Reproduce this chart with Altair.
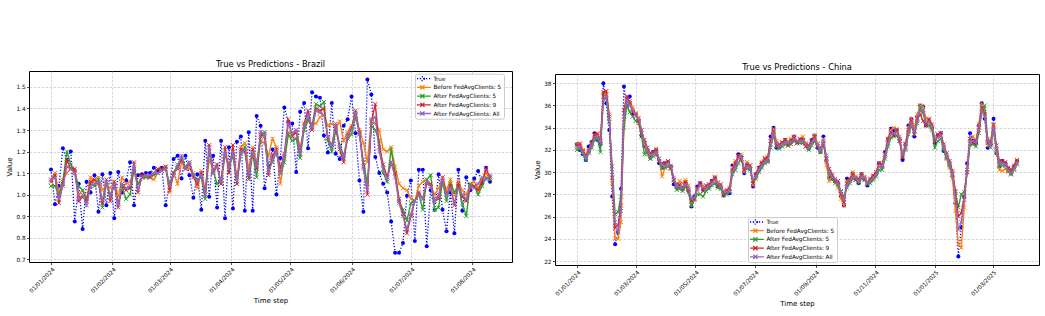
import altair as alt
import pandas as pd

SERIES = [
    "True",
    "Before FedAvgClients: 5",
    "After FedAvgClients: 5",
    "After FedAvgClients: 9",
    "After FedAvgClients: All",
]
COLORS = ["#0000ff", "#ff7f0e", "#2ca02c", "#d62728", "#9467bd"]

# ---- Brazil: one value every 2 days from 01/01/2024 ----
BR_TRUE = [
    1.117, 0.955, 1.04, 1.215, 1.16, 1.2, 0.875, 1.05, 0.84, 1.06,
    1.01, 1.09, 0.92, 1.095, 0.95, 1.10, 0.89, 1.105, 1.01, 1.065,
    1.15, 0.95, 1.09, 1.095, 1.10, 1.10, 1.125, 1.11, 1.125, 0.95,
    1.05, 1.165, 1.18, 1.075, 1.18, 1.09, 0.985, 1.095, 0.93, 1.25,
    0.99, 1.18, 0.94, 1.25, 0.89, 1.22, 0.935, 1.245, 1.27, 0.925,
    1.29, 0.925, 1.365, 1.32, 1.03, 1.135, 1.21, 1.0, 1.17, 1.405,
    1.335, 1.33, 1.105, 1.385, 1.425, 1.215, 1.475, 1.455, 1.45, 1.275,
    1.195, 1.425, 1.19, 1.165, 1.32, 1.35, 1.455, 1.285, 1.065, 0.92,
    1.535, 1.465, 1.175, 1.10, 1.05, 1.01, 0.875, 0.73, 0.73, 0.775,
    0.995, 1.065, 0.785, 1.115, 1.115, 0.76, 1.02, 0.93, 1.095, 0.93,
    0.83, 1.01, 0.82, 1.115, 0.925, 1.08, 1.02, 1.075, 1.11, 1.05,
    1.125, 1.06,
]
BR_BEFORE5 = [
    1.07, 1.10, 1.01, 1.07, 1.10, 1.12, 1.11, 1.00, 1.02, 0.98,
    1.08, 1.06, 1.08, 1.02, 1.04, 1.03, 1.06, 0.99, 1.08, 1.05,
    1.06, 1.10, 1.05, 1.08, 1.08, 1.08, 1.07, 1.10, 1.11, 1.13,
    1.01, 1.10, 1.05, 1.15, 1.12, 1.12, 1.10, 1.03, 1.11, 1.02,
    1.16, 1.12, 1.13, 1.05, 1.18, 1.14, 1.20, 1.08, 1.22, 1.24,
    1.12, 1.22, 1.15, 1.25, 1.24, 1.18, 1.26, 1.22, 1.05, 1.17,
    1.29, 1.28, 1.30, 1.22, 1.30, 1.34, 1.33, 1.33, 1.36, 1.37,
    1.32, 1.33, 1.31, 1.34, 1.25, 1.29, 1.32, 1.35, 1.30, 1.24,
    1.15, 1.35, 1.33, 1.30, 1.21, 1.20, 1.22, 1.13, 1.05, 1.03,
    1.02, 0.98, 0.97, 1.04, 1.06, 1.07, 1.04, 1.00, 1.03, 1.08,
    1.02, 1.07, 1.00, 1.06, 1.02, 1.00, 1.05, 1.06, 1.03, 1.07,
    1.10, 1.08,
]
BR_AFTER5 = [
    1.04, 1.04, 1.00, 1.06, 1.20, 1.14, 1.10, 1.04, 1.02, 0.98,
    1.05, 1.04, 1.07, 0.94, 1.05, 1.00, 1.04, 0.96, 1.03, 0.98,
    1.00, 1.12, 1.05, 1.08, 1.08, 1.08, 1.09, 1.10, 1.11, 1.12,
    1.05, 1.10, 1.14, 1.16, 1.13, 1.15, 1.09, 1.07, 1.08, 0.98,
    1.20, 1.11, 1.05, 1.07, 1.19, 1.13, 1.18, 1.05, 1.19, 1.22,
    1.07, 1.19, 1.08, 1.27, 1.29, 1.13, 1.15, 1.20, 1.10, 1.15,
    1.28, 1.25, 1.26, 1.17, 1.30, 1.35, 1.32, 1.42, 1.41, 1.43,
    1.25, 1.20, 1.30, 1.23, 1.18, 1.26, 1.28, 1.37, 1.28, 1.15,
    1.05, 1.32, 1.30, 1.25, 1.10, 1.06, 1.21, 1.10, 0.97, 0.93,
    0.88, 0.96, 0.97, 1.00, 0.93, 1.07, 1.09, 0.93, 0.94, 1.06,
    0.97, 1.05, 1.01, 1.04, 0.96, 0.90, 1.05, 1.04, 1.00, 1.04,
    1.08, 1.07,
]
BR_AFTER9 = [
    1.06, 1.09, 0.96, 1.05, 1.16, 1.12, 1.12, 0.97, 0.99, 0.97,
    1.06, 1.07, 1.05, 0.96, 1.07, 0.97, 1.06, 0.94, 1.04, 1.02,
    1.03, 1.15, 1.01, 1.09, 1.09, 1.08, 1.10, 1.12, 1.12, 1.13,
    1.02, 1.10, 1.12, 1.17, 1.12, 1.14, 1.08, 1.05, 1.10, 1.00,
    1.23, 1.10, 1.14, 1.05, 1.22, 1.10, 1.23, 1.05, 1.21, 1.20,
    1.08, 1.21, 1.12, 1.28, 1.27, 1.09, 1.18, 1.21, 1.12, 1.19,
    1.35, 1.27, 1.29, 1.19, 1.33, 1.39, 1.30, 1.40, 1.39, 1.40,
    1.26, 1.23, 1.32, 1.21, 1.15, 1.27, 1.31, 1.39, 1.29, 1.13,
    1.00, 1.34, 1.42, 1.22, 1.14, 1.08, 1.15, 1.10, 0.98, 0.91,
    0.82, 0.90, 0.97, 1.01, 0.98, 1.05, 1.05, 0.97, 0.98, 1.08,
    1.00, 1.04, 0.95, 1.05, 0.99, 0.97, 1.03, 1.04, 1.02, 1.06,
    1.12, 1.08,
]
BR_AFTERALL = [
    1.07, 1.08, 0.98, 1.04, 1.13, 1.12, 1.10, 0.98, 1.00, 0.95,
    1.04, 1.05, 1.06, 0.97, 1.06, 0.99, 1.05, 0.95, 1.05, 1.03,
    1.04, 1.14, 1.02, 1.08, 1.09, 1.09, 1.10, 1.10, 1.11, 1.12,
    1.04, 1.09, 1.13, 1.18, 1.12, 1.15, 1.09, 1.06, 1.09, 1.00,
    1.22, 1.10, 1.13, 1.06, 1.20, 1.12, 1.20, 1.06, 1.20, 1.21,
    1.09, 1.20, 1.13, 1.29, 1.28, 1.10, 1.16, 1.20, 1.10, 1.18,
    1.33, 1.28, 1.30, 1.19, 1.32, 1.37, 1.31, 1.39, 1.38, 1.37,
    1.27, 1.22, 1.33, 1.22, 1.17, 1.28, 1.30, 1.38, 1.28, 1.12,
    1.02, 1.35, 1.36, 1.20, 1.12, 1.07, 1.15, 1.08, 0.96, 0.90,
    0.84, 0.91, 0.97, 1.00, 0.98, 1.06, 1.04, 0.97, 1.00, 1.07,
    1.00, 1.03, 0.96, 1.03, 1.00, 0.98, 1.04, 1.03, 1.05, 1.08,
    1.07, 1.09,
]

# ---- China: one value every 3 days from 01/01/2024 ----
CN_TRUE = [
    32.5, 32.0, 31.6, 31.1, 32.3, 32.7, 33.5, 32.9, 32.5, 38.0,
    36.2, 33.8, 27.8, 23.5, 24.6, 28.5, 37.7, 35.9, 36.8, 35.2,
    35.2, 34.7, 33.3, 32.3, 31.8, 31.3, 31.8, 32.0, 30.8, 30.4,
    30.8, 30.9, 30.5, 28.9, 28.6, 28.7, 28.6, 29.0, 28.3, 26.9,
    27.8, 28.7, 29.0, 28.4, 28.6, 28.7, 29.2, 29.5, 28.7, 28.6,
    27.9, 28.2, 28.1, 30.6, 30.6, 31.6, 31.4, 29.9, 30.7, 30.3,
    28.7, 29.8, 30.4, 30.8, 31.1, 31.0, 33.2, 34.0, 32.2, 32.3,
    32.6, 32.9, 32.6, 32.8, 33.2, 32.7, 32.9, 32.9, 32.5, 32.1,
    32.9, 33.3, 32.2, 31.8, 33.2, 31.0, 29.5, 29.4, 29.3, 28.9,
    27.8, 27.0, 29.4, 29.3, 29.9, 29.5, 29.0, 29.8, 29.5, 28.8,
    29.3, 29.6, 29.9, 30.8, 30.5, 31.8, 33.0, 33.9, 33.7, 33.8,
    32.9, 31.1, 32.5, 34.2, 34.8, 33.2, 35.0, 36.0, 35.9, 34.2,
    34.6, 34.0, 32.6, 33.3, 33.5, 31.9, 31.3, 30.6, 29.6, 27.2,
    22.4, 25.0, 27.8, 30.8, 33.5, 32.8, 32.6, 34.2, 36.2, 34.8,
    32.2, 32.5, 34.8, 31.7, 30.5, 31.0, 30.8, 30.3, 29.9, 30.5,
    31.0,
]
CN_BEFORE5 = [
    32.5, 32.6, 32.0, 31.5, 32.0, 32.6, 33.3, 33.5, 32.8, 37.0,
    37.0, 35.2, 29.0, 24.0, 24.0, 25.5, 34.5, 36.6, 36.4, 35.8,
    35.3, 34.9, 33.8, 32.5, 31.6, 31.2, 31.6, 32.1, 31.2, 29.6,
    30.4, 30.9, 30.4, 29.3, 28.7, 29.2, 29.0, 29.3, 28.8, 27.0,
    27.5, 28.5, 28.8, 28.8, 28.5, 28.9, 29.2, 29.6, 29.1, 28.6,
    28.3, 28.3, 28.6, 30.4, 31.0, 31.3, 31.6, 30.0, 30.9, 30.6,
    28.8, 29.7, 30.3, 30.9, 31.3, 31.2, 32.8, 33.9, 32.8, 32.4,
    32.6, 32.9, 32.8, 33.0, 33.2, 32.8, 33.0, 33.2, 32.6, 32.2,
    32.8, 33.3, 32.6, 31.8, 33.0, 30.6, 29.2, 29.6, 29.2, 28.6,
    27.6, 27.0, 29.2, 29.4, 30.0, 29.6, 29.2, 29.8, 29.6, 29.0,
    29.3, 29.6, 30.0, 30.8, 30.6, 31.6, 33.0, 33.8, 34.0, 33.9,
    33.2, 31.5, 32.6, 34.0, 34.8, 34.0, 35.2, 36.0, 35.9, 34.8,
    34.7, 34.0, 32.8, 33.4, 33.5, 32.2, 31.2, 30.4, 29.4, 26.5,
    23.5, 23.2, 26.8, 30.5, 33.0, 33.2, 32.8, 34.3, 36.1, 35.4,
    32.4, 32.8, 34.3, 31.8, 30.2, 30.1, 30.3, 30.0, 29.8, 30.4,
    31.0,
]
CN_AFTER5 = [
    32.0, 32.1, 31.6, 31.1, 31.7, 32.2, 32.9, 33.0, 31.8, 36.8,
    36.6, 34.5, 30.5, 26.2, 26.4, 27.8, 34.0, 36.0, 35.4, 35.0,
    34.6, 34.4, 33.2, 31.6, 31.8, 31.2, 31.4, 31.6, 31.0, 30.4,
    30.4, 30.5, 30.3, 29.3, 28.4, 28.5, 28.3, 28.7, 28.2, 27.0,
    27.5, 28.0, 28.0, 27.8, 28.3, 28.5, 28.8, 29.0, 28.6, 28.5,
    27.9, 28.0, 28.2, 29.8, 30.2, 30.8, 31.2, 30.2, 30.3, 30.2,
    29.2, 29.4, 30.0, 30.4, 30.8, 30.9, 32.2, 33.3, 32.3, 32.1,
    32.3, 32.5, 32.4, 32.5, 32.8, 32.6, 32.6, 32.6, 32.3, 32.0,
    32.4, 32.8, 32.3, 31.8, 32.5, 31.3, 29.8, 29.4, 29.0, 28.8,
    28.3, 27.8, 28.6, 29.0, 29.4, 29.3, 29.0, 29.4, 29.3, 28.9,
    29.0, 29.3, 29.6, 30.2, 30.2, 31.2, 32.3, 33.1, 33.2, 33.3,
    32.8, 31.4, 32.0, 33.4, 34.2, 33.4, 34.4, 35.8, 35.3, 34.2,
    34.2, 33.8, 32.2, 32.8, 33.0, 32.0, 31.3, 30.6, 29.8, 28.2,
    26.8, 28.0, 28.2, 30.0, 32.5, 32.5, 32.3, 33.5, 35.4, 36.0,
    33.0, 32.2, 33.8, 32.0, 30.6, 30.6, 30.6, 30.1, 29.8, 30.2,
    30.7,
]
CN_AFTER9 = [
    32.4, 32.5, 31.9, 31.5, 31.9, 32.6, 33.4, 33.4, 32.8, 37.2,
    37.3, 35.0, 29.5, 25.0, 25.2, 27.0, 35.6, 36.8, 36.2, 35.4,
    35.2, 34.6, 33.5, 32.9, 32.2, 31.7, 31.8, 32.0, 31.0, 30.8,
    30.8, 31.0, 30.4, 29.3, 28.9, 28.9, 28.5, 29.1, 28.4, 27.4,
    27.6, 28.6, 29.0, 28.3, 28.8, 28.9, 29.2, 29.5, 28.8, 28.9,
    28.0, 28.4, 28.5, 30.2, 30.8, 31.5, 31.2, 30.2, 30.7, 30.6,
    29.0, 29.8, 30.4, 30.8, 31.2, 31.3, 32.8, 33.7, 32.4, 32.5,
    32.7, 32.9, 32.4, 32.9, 33.1, 32.6, 33.0, 32.9, 32.3, 32.4,
    32.8, 33.2, 32.3, 32.2, 32.6, 31.2, 30.3, 29.8, 29.2, 29.2,
    28.0, 27.3, 29.0, 29.4, 29.8, 29.3, 29.4, 29.8, 29.3, 29.1,
    29.4, 29.7, 30.0, 30.8, 30.7, 31.6, 32.9, 33.6, 33.3, 33.8,
    32.8, 31.3, 32.5, 33.8, 34.6, 33.4, 34.8, 35.2, 34.6, 34.2,
    34.8, 34.3, 32.8, 33.4, 33.5, 32.5, 31.7, 31.0, 30.1, 28.3,
    26.0, 26.3, 27.8, 30.0, 33.0, 32.6, 32.8, 34.0, 35.8, 35.2,
    32.6, 32.6, 34.2, 32.4, 31.0, 31.0, 30.9, 30.4, 30.2, 30.6,
    31.1,
]
CN_AFTERALL = [
    32.2, 32.3, 31.8, 31.3, 31.8, 32.4, 33.1, 33.2, 32.6, 36.5,
    36.8, 34.8, 30.0, 25.5, 24.6, 26.5, 35.0, 36.5, 36.0, 35.6,
    35.0, 34.8, 33.8, 32.6, 32.0, 31.5, 31.6, 31.8, 31.2, 30.6,
    30.6, 30.8, 30.6, 29.5, 28.8, 28.7, 28.6, 28.9, 28.6, 27.6,
    27.7, 28.4, 28.8, 28.6, 28.6, 28.7, 29.0, 29.3, 29.0, 28.7,
    28.2, 28.2, 28.3, 30.0, 30.5, 31.2, 31.4, 30.4, 30.5, 30.4,
    29.3, 29.6, 30.2, 30.6, 31.0, 31.0, 32.5, 33.5, 32.6, 32.3,
    32.5, 32.7, 32.6, 32.7, 33.0, 32.8, 32.8, 32.8, 32.5, 32.2,
    32.6, 33.0, 32.5, 32.0, 32.8, 31.5, 30.0, 29.6, 29.4, 29.0,
    28.2, 27.5, 28.8, 29.2, 29.6, 29.5, 29.2, 29.6, 29.5, 29.0,
    29.2, 29.5, 29.8, 30.5, 30.5, 31.4, 32.6, 33.4, 33.5, 33.6,
    33.0, 31.6, 32.2, 33.6, 34.4, 33.6, 34.6, 35.5, 35.6, 34.5,
    34.5, 34.1, 33.0, 33.1, 33.3, 32.3, 31.5, 30.8, 29.9, 27.8,
    24.8, 25.5, 27.5, 30.2, 32.8, 32.8, 32.6, 33.8, 35.6, 35.0,
    32.8, 32.4, 34.0, 32.2, 30.8, 30.8, 30.7, 30.2, 29.9, 30.3,
    30.8,
]

BR_YTICKS = [0.7, 0.8, 0.9, 1.0, 1.1, 1.2, 1.3, 1.4, 1.5]
CN_YTICKS = [22, 24, 26, 28, 30, 32, 34, 36, 38]
BR_XTICKS = [(2024, m) for m in range(1, 9)]
CN_XTICKS = [(2024, 1), (2024, 3), (2024, 5), (2024, 7), (2024, 9), (2024, 11), (2025, 1), (2025, 3)]

FONT = "DejaVu Sans"
X_MARK = "M-1,-1L1,1M-1,1L1,-1"
# legend glyphs: a short line segment carrying the series marker
LEG_LINE_DOT = ("M-2.8,0L2.8,0M0.7,0L0.5,0.5L0,0.7L-0.5,0.5L-0.7,0"
                "L-0.5,-0.5L0,-0.7L0.5,-0.5Z")
LEG_LINE_X = "M-2.8,0L2.8,0M-0.7,-0.7L0.7,0.7M-0.7,0.7L0.7,-0.7"


def long_frame(start, step_days, columns):
    n = len(columns[0])
    for col in columns:
        if len(col) != n:
            raise ValueError("series lengths differ")
    dates = pd.date_range(start, periods=n, freq=f"{step_days}D")
    parts = [pd.DataFrame({"date": dates, "series": name, "value": col})
             for name, col in zip(SERIES, columns)]
    return pd.concat(parts, ignore_index=True)


def panel(df, title, ydomain, yticks, yfmt, xdomain, xticks, legend_xy, width, height):
    color_scale = alt.Scale(domain=SERIES, range=COLORS)
    x_enc = alt.X(
        "date:T",
        scale=alt.Scale(domain=xdomain, nice=False),
        axis=alt.Axis(
            values=[alt.DateTime(year=y, month=m, date=1) for y, m in xticks],
            format="%d/%m/%Y", labelAngle=315, labelAlign="right",
            labelBaseline="top", title="Time step",
        ),
    )
    y_enc = alt.Y(
        "value:Q",
        scale=alt.Scale(domain=ydomain, nice=False, zero=False),
        axis=alt.Axis(values=yticks, format=yfmt, title="Value"),
    )
    legend = alt.Legend(
        orient="none", legendX=legend_xy[0], legendY=legend_xy[1], title=None,
        symbolType=alt.ExprRef(f"datum.value === 'True' ? '{LEG_LINE_DOT}' : '{LEG_LINE_X}'"),
        symbolDash=alt.ExprRef("datum.value === 'True' ? [1.2, 1.8] : [1, 0]"),
        symbolFillColor=alt.ExprRef("datum.value === 'True' ? '#0000ff' : 'transparent'"),
    )
    layers = []
    for k, name in enumerate(SERIES):
        base = alt.Chart(df).transform_filter(alt.datum.series == name)
        if name == "True":
            line = base.mark_line(color=COLORS[k], strokeWidth=1.3, strokeDash=[1.2, 1.8])
            pts = base.mark_point(shape="circle", filled=True, size=16, color=COLORS[k], opacity=1)
        else:
            line = base.mark_line(color=COLORS[k], strokeWidth=1.4)
            pts = base.mark_point(shape=X_MARK, filled=False, size=16, strokeWidth=1,
                                  color=COLORS[k], opacity=1)
        layers.append(line.encode(x=x_enc, y=y_enc))
        if k == len(SERIES) - 1:
            layers.append(pts.encode(
                x=x_enc, y=y_enc,
                color=alt.Color("series:N", scale=color_scale, legend=legend),
            ))
        else:
            layers.append(pts.encode(x=x_enc, y=y_enc))
    return alt.layer(*layers).properties(width=width, height=height, title=title)


def gap(width, height):
    # blank strip used to stagger the two panels vertically
    return (
        alt.Chart(pd.DataFrame({"v": [0]}))
        .mark_point(opacity=0)
        .encode(x=alt.value(0), y=alt.value(0))
        .properties(width=width, height=height, view=alt.ViewConfig(stroke="transparent"))
    )


brazil_df = long_frame("2024-01-01", 2, [BR_TRUE, BR_BEFORE5, BR_AFTER5, BR_AFTER9, BR_AFTERALL])
china_df = long_frame("2024-01-01", 3, [CN_TRUE, CN_BEFORE5, CN_AFTER5, CN_AFTER9, CN_AFTERALL])

brazil = panel(
    brazil_df,
    alt.TitleParams("True vs Predictions - Brazil", fontSize=8.3, fontWeight="normal", offset=3),
    [0.687, 1.574], BR_YTICKS, ".1f",
    [alt.DateTime(year=2023, month=12, date=20, hours=21), alt.DateTime(year=2024, month=8, date=21, hours=3)],
    BR_XTICKS, (386, 18.7), 483, 191,
)
china = panel(
    china_df,
    alt.TitleParams("True vs Predictions - China", fontSize=8.3, fontWeight="normal", offset=3),
    [21.64, 38.83], CN_YTICKS, "d",
    [alt.DateTime(year=2023, month=12, date=9, hours=12), alt.DateTime(year=2025, month=4, date=17, hours=12)],
    CN_XTICKS, (193, 162), 484, 191,
)

brazil_column = alt.vconcat(gap(483, 1), brazil, spacing=0)
china_column = alt.vconcat(gap(484, 6), china, spacing=0)

chart = (
    alt.hconcat(brazil_column, china_column, spacing=20)
    .resolve_scale(color="independent")
    .resolve_legend(color="independent")
    .properties(padding={"left": 5, "top": 51, "right": 5, "bottom": 2})
    .configure(font=FONT, background="white")
    .configure_view(stroke="black", strokeWidth=1)
    .configure_axis(
        labelFontSize=5.7, labelColor="black", labelFont=FONT, labelPadding=1.5,
        titleFontSize=7, titleFont=FONT, titleColor="black", titleFontWeight="normal",
        titlePadding=3, tickSize=2.5, tickWidth=0.7, tickColor="black",
        domain=False, grid=True, gridColor="#b8b8b8", gridDash=[2.5, 1.5],
        gridWidth=0.7, gridOpacity=0.8,
    )
    .configure_legend(
        labelFontSize=5.7, labelFont=FONT, labelColor="black", labelOffset=7,
        symbolSize=36, symbolOffset=1.4, symbolStrokeWidth=1.3, rowPadding=2.7, padding=2,
        clipHeight=6,
        fillColor="rgba(255,255,255,0.85)", strokeColor="#cccccc", cornerRadius=2,
        symbolOpacity=1,
    )
    .configure_title(font=FONT, color="black", anchor="middle")
)

chart.save("out.html", embed_options={"renderer": "svg", "actions": False})
